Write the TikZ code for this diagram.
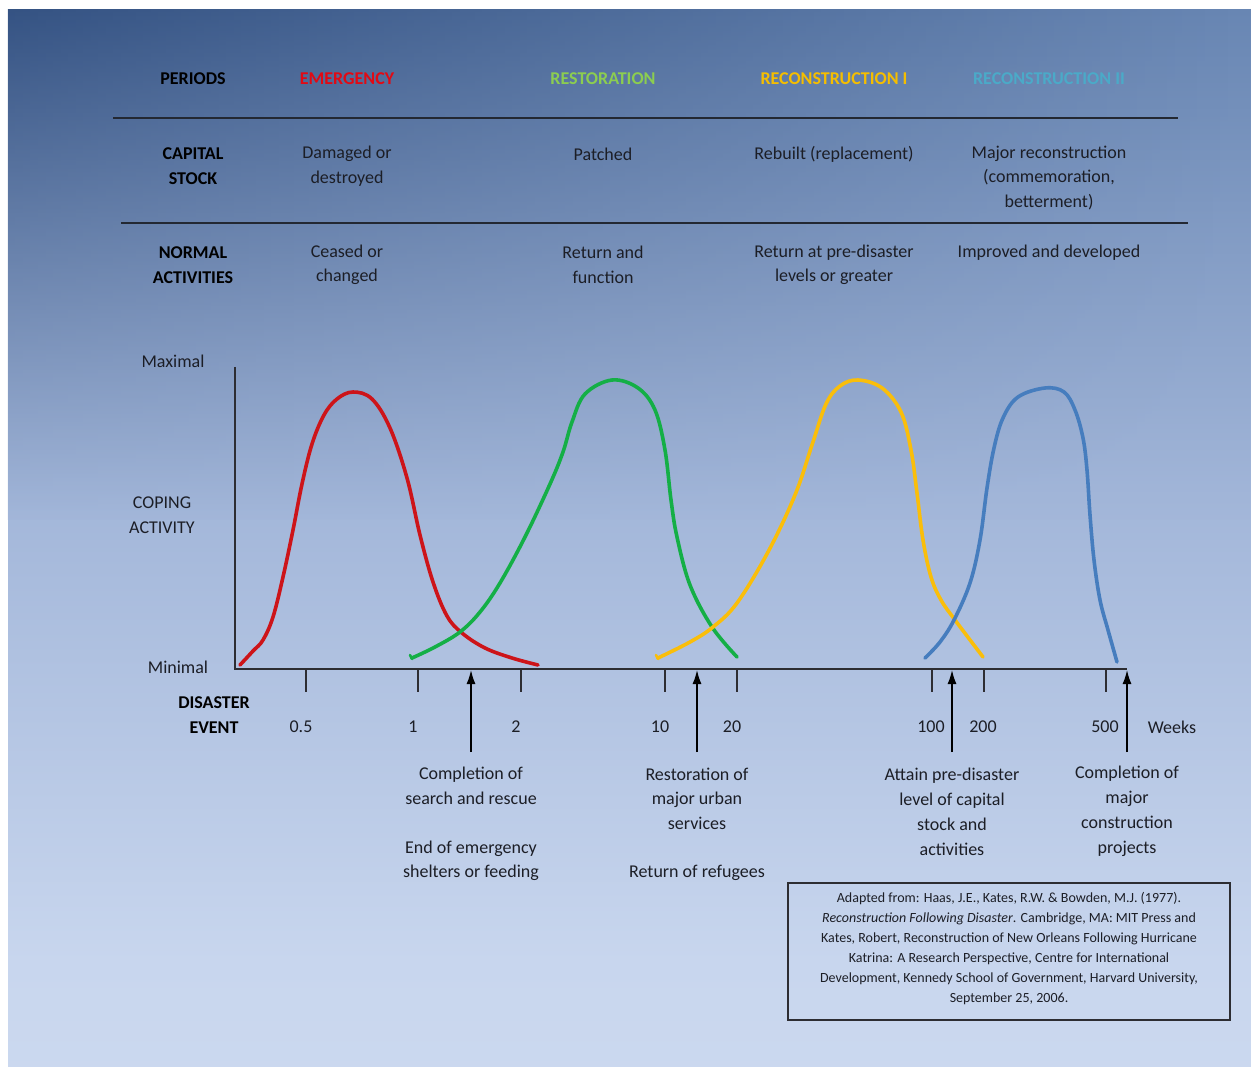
\documentclass[tikz,border=0pt]{standalone}
\usepackage{fontspec}
\setmainfont{Carlito}
\usetikzlibrary{arrows.meta,fadings}
\definecolor{bgA}{RGB}{50,88,138}
\definecolor{bgB}{RGB}{105,135,180}
\definecolor{bgC}{RGB}{162,182,217}
\definecolor{bgD}{RGB}{200,214,238}
\definecolor{bgE}{RGB}{216,226,242}
\definecolor{bgdark}{RGB}{25,55,105}
\definecolor{txt}{RGB}{28,30,38}
\definecolor{rulec}{RGB}{35,40,50}
\definecolor{axc}{RGB}{45,45,50}
\definecolor{cRed}{RGB}{205,20,25}
\definecolor{cGreen}{RGB}{20,175,70}
\definecolor{cYellow}{RGB}{250,190,10}
\definecolor{cBlue}{RGB}{70,125,190}
\definecolor{hRed}{RGB}{225,10,20}
\definecolor{hGreen}{RGB}{140,205,80}
\definecolor{hYellow}{RGB}{245,190,0}
\definecolor{hTeal}{RGB}{75,170,200}
\pgfdeclareverticalshading{bgsh}{100bp}{color(0bp)=(bgE); color(30bp)=(bgD); color(52bp)=(bgC); color(75bp)=(bgB); color(100bp)=(bgA)}
\tikzfading[name=hfade, left color=transparent!35, right color=transparent!100]
\begin{document}
\begin{tikzpicture}[x=1pt,y=-1pt,
  lbl/.style={font=\fontsize{18}{24.5}\selectfont, align=center, inner sep=0pt, text=txt},
  hdr/.style={font=\fontsize{18}{24.5}\selectfont\bfseries, align=center, inner sep=0pt, text=black},
  cite/.style={font=\fontsize{14}{20}\selectfont, align=center, inner sep=0pt, text=txt},
  rule/.style={line width=2pt, draw=rulec},
  axisline/.style={line width=1.6pt, draw=axc},
  tickmark/.style={line width=1.5pt, draw=axc},
  evarrow/.style={line width=1.5pt, draw=black, -{Latex[length=14pt,width=9pt]}},
  curve/.style={line width=3.6pt, line cap=round, line join=round},
]
\useasboundingbox (0,0) rectangle (1251,1067);
\fill[white] (0,0) rectangle (1251,1067);
\shade[shading=bgsh] (8,10) rectangle (1251,1067);
\shade[top color=bgdark, bottom color=bgC, path fading=hfade] (8,10) rectangle (1251,520);

% ---- table ----
\node[hdr] (pPer) at (193,79) {PERIODS};
\node[hdr,text=hRed] (pEm) at (347,79) {EMERGENCY};
\node[hdr,text=hGreen] (pRes) at (603,79) {RESTORATION};
\node[hdr,text=hYellow] (pRc1) at (834,79) {RECONSTRUCTION I};
\node[hdr,text=hTeal] (pRc2) at (1049,79) {RECONSTRUCTION II};
\coordinate (r1a) at (113,118); \coordinate (r1b) at (1178,118);
\draw[rule] (r1a) -- (r1b);

\node[hdr] (cap) at (193,166) {CAPITAL\\STOCK};
\node[lbl] (cEm) at (347,166) {Damaged or\\destroyed};
\node[lbl] (cRes) at (603,154) {Patched};
\node[lbl] (cRc1) at (834,154) {Rebuilt (replacement)};
\node[lbl] (cRc2) at (1049,178) {Major reconstruction\\(commemoration,\\betterment)};
\coordinate (r2a) at (121,223); \coordinate (r2b) at (1188,223);
\draw[rule] (r2a) -- (r2b);

\node[hdr] (norm) at (193,265) {NORMAL\\ACTIVITIES};
\node[lbl] (nEm) at (347,265) {Ceased or\\changed};
\node[lbl] (nRes) at (603,265) {Return and\\function};
\node[lbl] (nRc1) at (834,265) {Return at pre-disaster\\levels or greater};
\node[lbl] (nRc2) at (1049,253) {Improved and developed};

% ---- chart axes ----
\coordinate (yTop) at (235,367);
\coordinate (org) at (235,669);
\coordinate (xEnd) at (1127,669);
\draw[axisline] (yTop) -- (org) -- (xEnd);

\node[lbl] (lMax) at (173,361) {Maximal};
\node[lbl] (lCop) at (162,515) {COPING\\ACTIVITY};
\node[lbl] (lMin) at (178,667) {Minimal};
\node[hdr] (lDis) at (214,715) {DISASTER\\EVENT};

\foreach \tx in {306,418,521,665,737,932,984,1106}{
  \draw[tickmark] (\tx,669) -- (\tx,692);
}
\node[lbl] (t05) at (301,727) {0.5};
\node[lbl] (t1) at (413,727) {1};
\node[lbl] (t2) at (516,727) {2};
\node[lbl] (t10) at (660,727) {10};
\node[lbl] (t20) at (732,727) {20};
\node[lbl] (t100) at (931,727) {100};
\node[lbl] (t200) at (983,727) {200};
\node[lbl] (t500) at (1105,727) {500};
\node[lbl] (tW) at (1172,727) {Weeks};

% ---- curves ----
\draw[curve,cRed] plot[smooth,tension=0.6] coordinates {(240,665) (253,651) (263,640) (273,617) (283,577) (293,530) (302,484) (312,444) (324,415) (337,399) (353,392) (372,399) (390,428) (407,478) (420,535) (433,582) (447,616) (462,633) (485,648) (512,658) (538,665)};

\draw[curve,cGreen] plot[smooth,tension=0.6] coordinates {(412,658) (435,647) (460,632) (480,612) (500,583) (525,537) (550,484) (563,452) (572,422) (585,394) (612,380) (638,388) (655,410) (665,450) (671,500) (677,537) (690,585) (712,627) (737,657)};
\draw[line width=2.5pt,cGreen,line cap=round] (410,655) -- (412,659);

\draw[curve,cYellow] plot[smooth,tension=0.6] coordinates {(658,658) (690,642) (713,627) (737,603) (768,552) (795,495) (812,445) (826,404) (840,386) (858,380) (882,388) (901,412) (911,450) (917,493) (923,540) (931,577) (941,600) (955,620) (983,657)};
\draw[line width=2.5pt,cYellow,line cap=round] (656,655) -- (658,659);

\draw[curve,cBlue] plot[smooth,tension=0.6] coordinates {(925,658) (940,642) (954,620) (970,583) (980,540) (987,488) (994,448) (1003,418) (1018,397) (1045,388) (1064,392) (1075,410) (1083,438) (1087,470) (1090,515) (1094,560) (1100,600) (1108,630) (1117,662)};

% ---- event arrows & labels ----
\coordinate (a1s) at (471,752); \coordinate (a1e) at (471,670);
\coordinate (a2s) at (697,752); \coordinate (a2e) at (697,670);
\coordinate (a3s) at (952,752); \coordinate (a3e) at (952,670);
\coordinate (a4s) at (1127,752); \coordinate (a4e) at (1127,670);
\draw[evarrow] (a1s) -- (a1e);
\draw[evarrow] (a2s) -- (a2e);
\draw[evarrow] (a3s) -- (a3e);
\draw[evarrow] (a4s) -- (a4e);

\node[lbl] (e1a) at (471,786) {Completion of\\search and rescue};
\node[lbl] (e1b) at (471,861) {End of emergency\\shelters or feeding};
\node[lbl] (e2a) at (697,798.5) {Restoration of\\major urban\\services};
\node[lbl] (e2b) at (697,873) {Return of refugees};
\node[lbl,font=\fontsize{18}{25}\selectfont] (e3) at (952,811.5) {Attain pre-disaster\\level of capital\\stock and\\activities};
\node[lbl,font=\fontsize{18}{25}\selectfont] (e4) at (1127,811.5) {Completion of\\major\\construction\\projects};

% ---- citation box ----
\draw[line width=1.5pt, draw=axc] (788,883) rectangle (1230,1020);
\node[cite] (src) at (1009,949) {Adapted from: Haas, J.E., Kates, R.W. \& Bowden, M.J. (1977).\\\textit{Reconstruction Following Disaster}. Cambridge, MA: MIT Press and\\Kates, Robert, Reconstruction of New Orleans Following Hurricane\\Katrina: A Research Perspective, Centre for International\\Development, Kennedy School of Government, Harvard University,\\September 25, 2006.};
\end{tikzpicture}
\end{document}
